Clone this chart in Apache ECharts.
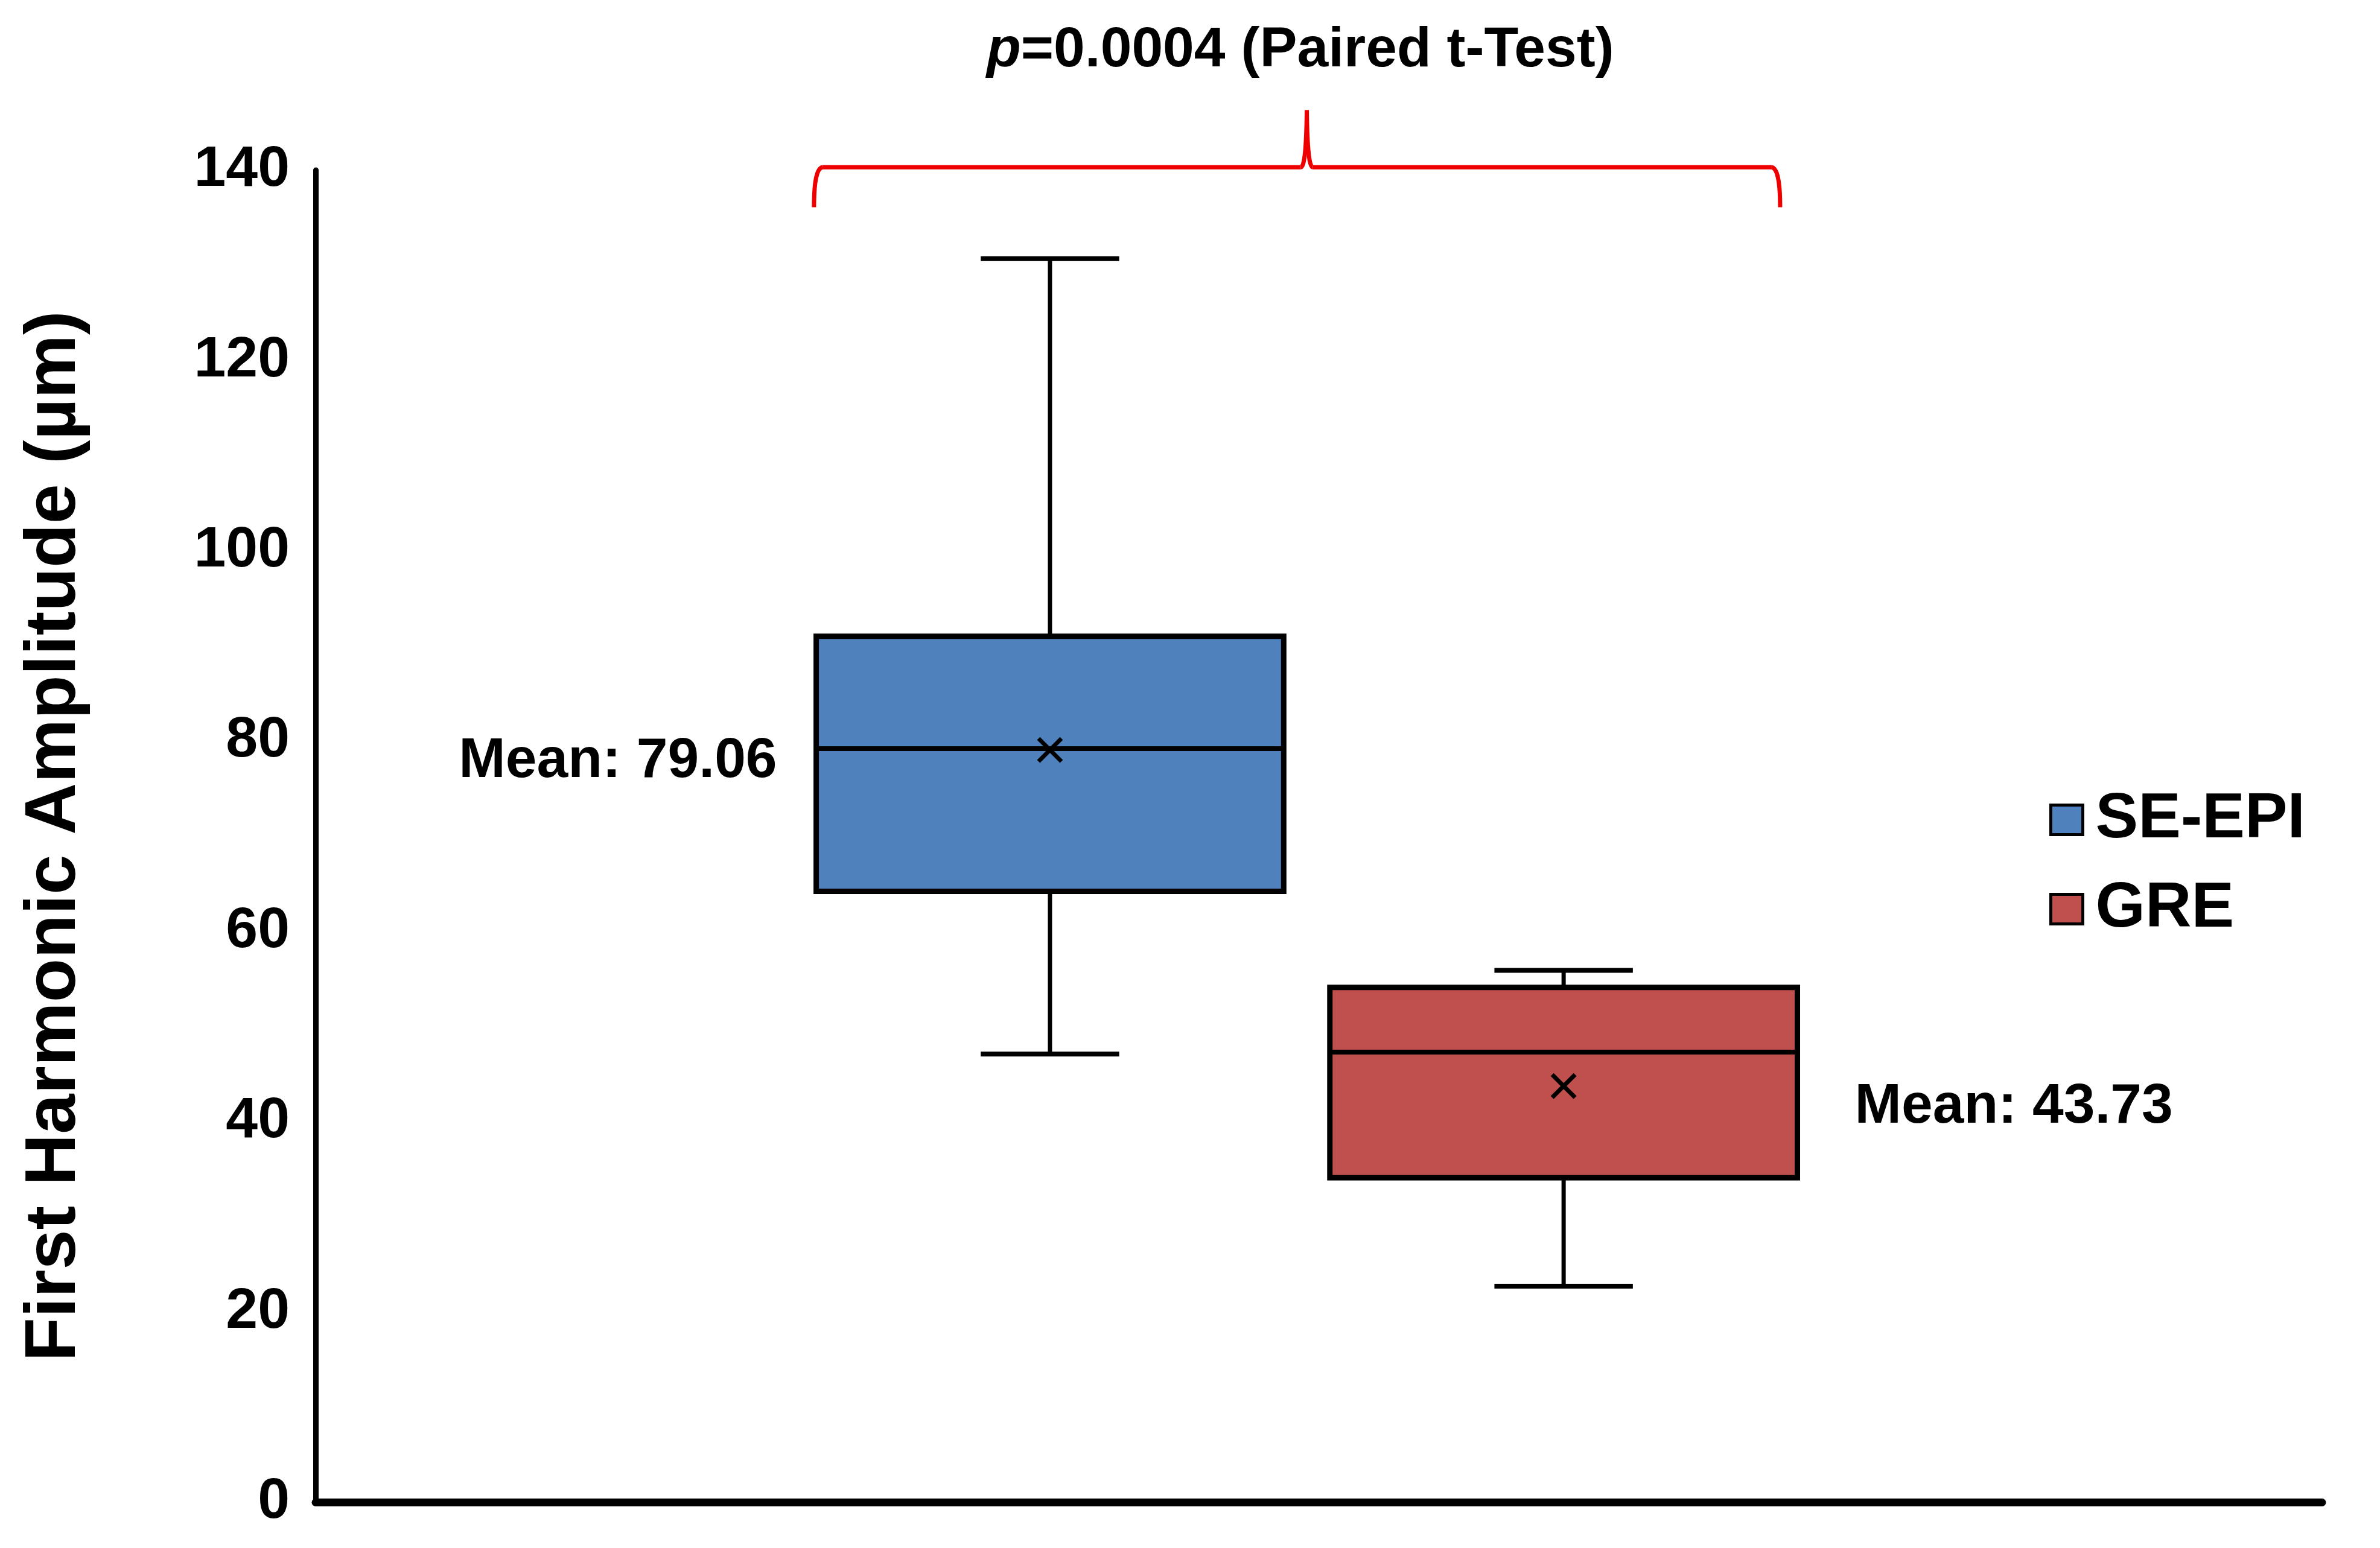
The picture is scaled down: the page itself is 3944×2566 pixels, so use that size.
<!DOCTYPE html>
<html lang="en">
<head>
  <meta charset="UTF-8">
  <title>First Harmonic Amplitude</title>
  <style>
    html, body { margin: 0; padding: 0; background: #fff; }
    #chart { width: 3944px; height: 2566px; }
  </style>
</head>
<body>
  <div id="chart"></div>
  <script src="https://cdn.jsdelivr.net/npm/echarts@6/dist/echarts.min.js"></script>
  <script>
    // data: min, q1, median, q3, max
    var seriesNames = ['SE-EPI', 'GRE'];
    var seEpiBox = [47.1, 64.2, 79.2, 91.0, 130.7];
    var greBox = [22.7, 34.1, 47.3, 54.1, 55.9];
    var means = [79.06, 43.73];
    var yMin = 0, yMax = 140, yStep = 20;
    var pValueText = '=0.0004 (Paired t-Test)';

    var FONT = '"Liberation Sans", Arial, sans-serif';
    var colors = ['#4F81BD', '#C0504D'];

    // layout helpers (fractions of the category band)
    var gridLeft = 523, gridRight = 96, gridTop = 282, gridBottom = 76;
    var boxShift = [-0.134, 0.122];
    var boxRatio = 0.233;
    var capRatio = 0.069;
    var labelSide = ['left', 'right'];
    var labelGap = [65, 95];
    var labelDrop = [19, 35];

    var chart = echarts.init(document.getElementById('chart'));

    function renderBox(params, api) {
      var i = params.seriesIndex;
      var bw = api.size([1, 0])[0];
      var cx = api.coord([api.value(0), 0])[0] + boxShift[i] * bw;
      var hw = bw * boxRatio / 2;
      var cw = bw * capRatio / 2;
      var y = function (d) { return api.coord([0, api.value(d)])[1]; };
      var lo = y(1), q1 = y(2), med = y(3), q3 = y(4), hi = y(5), mean = y(6);
      var line = function (x1, y1, x2, y2, w) {
        return {
          type: 'line',
          shape: { x1: x1, y1: y1, x2: x2, y2: y2 },
          style: { stroke: '#000', lineWidth: w }
        };
      };
      var m = 19;
      var lx = labelSide[i] === 'left' ? cx - hw - labelGap[i] : cx + hw + labelGap[i];
      return {
        type: 'group',
        children: [
          line(cx, q3, cx, hi, 7),
          line(cx, q1, cx, lo, 7),
          line(cx - cw, hi, cx + cw, hi, 8),
          line(cx - cw, lo, cx + cw, lo, 8),
          {
            type: 'rect',
            shape: { x: cx - hw, y: q3, width: hw * 2, height: q1 - q3 },
            style: { fill: colors[i], stroke: '#000', lineWidth: 9 }
          },
          line(cx - hw, med, cx + hw, med, 8),
          line(cx - m, mean - m, cx + m, mean + m, 7),
          line(cx - m, mean + m, cx + m, mean - m, 7),
          {
            type: 'text',
            x: lx,
            y: mean + labelDrop[i],
            style: {
              text: 'Mean: ' + api.value(6).toFixed(2),
              fill: '#000',
              fontSize: 93,
              fontWeight: 'bold',
              fontFamily: FONT,
              align: labelSide[i] === 'left' ? 'right' : 'left',
              verticalAlign: 'middle'
            }
          }
        ]
      };
    }

    var boxes = [seEpiBox, greBox];

    var option = {
      animation: false,
      backgroundColor: '#fff',
      title: {
        text: '{i|p}' + pValueText,
        left: 1635,
        top: 38,
        padding: 0,
        textStyle: {
          fontSize: 93,
          fontWeight: 'bold',
          fontFamily: FONT,
          color: '#000',
          rich: {
            i: { fontStyle: 'italic', fontSize: 93, fontWeight: 'bold', fontFamily: FONT, color: '#000' }
          }
        }
      },
      legend: {
        orient: 'vertical',
        left: 3396,
        top: 1306,
        padding: 0,
        itemWidth: 53,
        itemHeight: 49,
        itemGap: 42,
        textStyle: {
          fontSize: 106,
          fontWeight: 'bold',
          fontFamily: FONT,
          color: '#000',
          lineHeight: 106,
          padding: [0, 0, 0, 16]
        },
        data: seriesNames.map(function (n, i) {
          return {
            name: n,
            icon: 'rect',
            itemStyle: { color: colors[i], borderColor: '#000', borderWidth: 5 }
          };
        })
      },
      grid: { left: gridLeft, right: gridRight, top: gridTop, bottom: gridBottom },
      xAxis: {
        type: 'category',
        data: [''],
        axisLine: { show: true, lineStyle: { color: '#000', width: 13 } },
        axisTick: { show: false },
        axisLabel: { show: false },
        splitLine: { show: false }
      },
      yAxis: {
        type: 'value',
        min: yMin,
        max: yMax,
        interval: yStep,
        name: 'First Harmonic Amplitude (µm)',
        nameLocation: 'middle',
        nameGap: 372,
        nameTextStyle: { fontSize: 119, fontWeight: 'bold', fontFamily: FONT, color: '#000' },
        axisLine: { show: true, lineStyle: { color: '#000', width: 9 } },
        axisTick: { show: false },
        splitLine: { show: false },
        axisLabel: { fontSize: 95, fontWeight: 'bold', fontFamily: FONT, color: '#000', margin: 43 }
      },
      series: seriesNames.map(function (n, i) {
        return {
          name: n,
          type: 'custom',
          renderItem: renderBox,
          itemStyle: { color: colors[i] },
          encode: { x: 0, y: [1, 2, 3, 4, 5, 6] },
          data: [[0].concat(boxes[i], [means[i]])],
          clip: false,
          z: 3
        };
      })
    };

    chart.setOption(option);

    // red brace above the two boxes
    var gridW = chart.getWidth() - gridLeft - gridRight;
    var cx0 = gridLeft + gridW / 2;
    var px = function (r) { return cx0 + r * gridW; };
    var py = function (v) { return chart.convertToPixel({ yAxisIndex: 0 }, v); };
    var L = px(-0.2516), R = px(0.2299), T = px(-0.006);
    var yl = py(140.3), ye = py(136.1), yt = py(146.3);
    var braceStyle = { stroke: '#ee0000', lineWidth: 7, fill: 'none' };
    function seg(x1, y1, x2, y2) {
      return { type: 'line', shape: { x1: x1, y1: y1, x2: x2, y2: y2 }, style: braceStyle };
    }
    function curve(x1, y1, x2, y2, cpx, cpy) {
      return { type: 'bezierCurve', shape: { x1: x1, y1: y1, x2: x2, y2: y2, cpx1: cpx, cpy1: cpy }, style: braceStyle };
    }
    chart.setOption({
      graphic: {
        elements: [
          curve(L, ye, L + 14, yl, L, yl + 2),
          seg(L + 14, yl, T - 10, yl),
          curve(T - 10, yl, T, yt, T - 1, yl),
          curve(T, yt, T + 10, yl, T + 1, yl),
          seg(T + 10, yl, R - 14, yl),
          curve(R - 14, yl, R, ye, R, yl + 2)
        ]
      }
    });
  </script>
</body>
</html>
